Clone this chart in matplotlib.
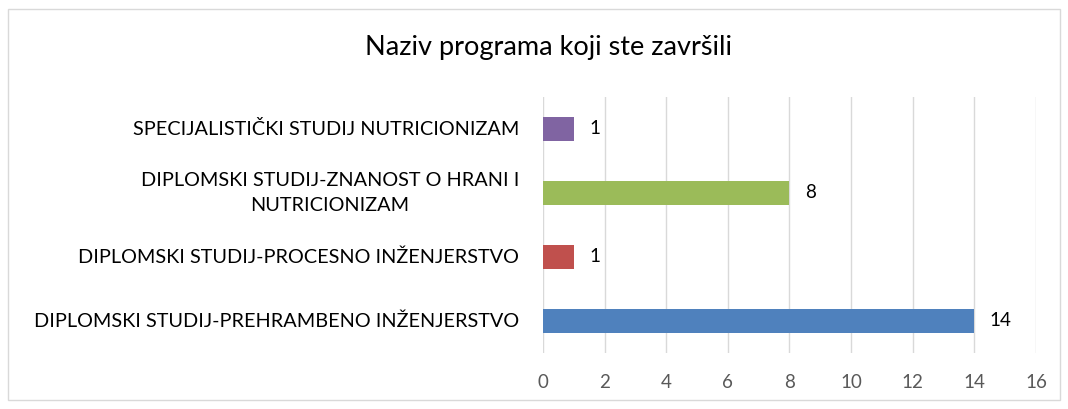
import matplotlib.pyplot as plt
from matplotlib.patches import Rectangle

programs = [
    "DIPLOMSKI STUDIJ-PREHRAMBENO INŽENJERSTVO",
    "DIPLOMSKI STUDIJ-PROCESNO INŽENJERSTVO",
    "DIPLOMSKI STUDIJ-ZNANOST O HRANI I\nNUTRICIONIZAM",
    "SPECIJALISTIČKI STUDIJ NUTRICIONIZAM",
]
counts = [14, 1, 8, 1]
colors = ["#4F81BD", "#C0504D", "#9BBB59", "#8064A2"]
xticks = [0, 2, 4, 6, 8, 10, 12, 14, 16]

plt.rcParams['font.family'] = ['Lato', 'DejaVu Sans']

fig = plt.figure(figsize=(10.68, 4.09), dpi=100)
ax = fig.add_axes([0.5084, 0.137, 0.4616, 0.626])

y = list(range(len(programs)))
ax.barh(y, counts, height=0.38, color=colors, zorder=3)
for yi, v in zip(y, counts):
    ax.annotate(str(v), (v, yi), xytext=(11, 0), textcoords='offset points',
                va='center', ha='left', fontsize=13.5, color='#000000')

ax.set_xlim(0, 16)
ax.set_ylim(-0.5, 3.5)
ax.set_xticks(xticks)
ax.set_yticks(y)
ax.set_yticklabels([])
# category labels drawn as text so the wrapped one can be centred
for yi, name in zip(y, programs):
    ax.annotate(name, (0, yi), xycoords=('axes fraction', 'data'),
                xytext=(-17, 0), textcoords='offset points',
                ha='right', va='center', multialignment='center',
                linespacing=1.55, fontsize=14.3, color='#000000')
ax.tick_params(axis='x', length=0, labelsize=13.5, labelcolor='#595959', pad=15)
ax.tick_params(axis='y', length=0)
ax.grid(axis='x', color='#D9D9D9', linewidth=1, zorder=0)
for s in ax.spines.values():
    s.set_visible(False)

fig.text(0.514, 0.883, "Naziv programa koji ste završili", ha='center', va='center',
         fontsize=19.5, color='#000000')

# chart border
fig.patches.append(Rectangle((8 / 1068, 9 / 409), 1052 / 1068, 391 / 409,
                             transform=fig.transFigure, fill=False,
                             edgecolor='#D9D9D9', linewidth=1))

fig.savefig("out.png", dpi=100)
